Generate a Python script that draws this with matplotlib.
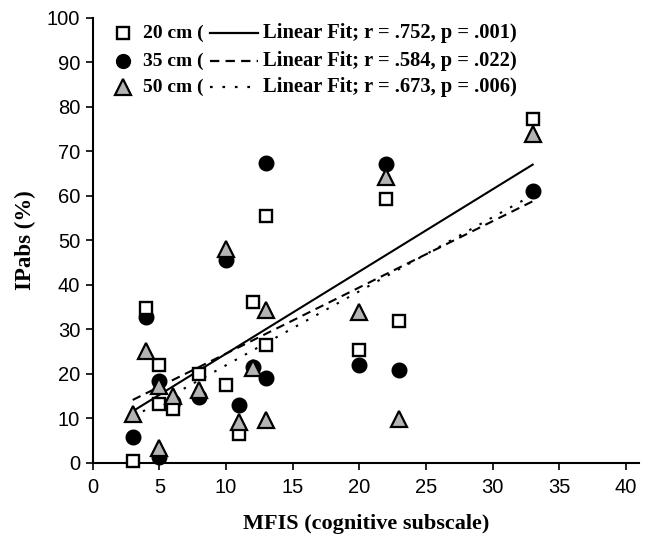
import numpy as np
import matplotlib
matplotlib.use("Agg")
import matplotlib.pyplot as plt

# MFIS cognitive subscale score per subject (same for all three distances)
mfis = [3, 4, 5, 5, 6, 8, 10, 11, 12, 13, 13, 20, 22, 23, 33]

# IPabs (%) at each distance
ip_20 = [0.5, 34.8, 22.0, 13.3, 12.1, 20.0, 17.5, 6.5, 36.1, 26.5, 55.5, 25.4, 59.3, 31.8, 77.2]
ip_35 = [5.9, 32.7, 18.5, 1.4, 13.8, 14.9, 45.6, 13.0, 21.5, 67.5, 19.0, 22.0, 67.2, 21.0, 61.2]
ip_50 = [11.0, 25.2, 17.3, 3.3, 15.1, 16.3, 48.0, 9.1, 21.3, 34.4, 9.7, 34.0, 64.2, 9.8, 73.9]

legend_labels = ["20 cm (", "35 cm (", "50 cm ("]
fit_labels = ["Linear Fit; r = .752, p = .001)",
              "Linear Fit; r = .584, p = .022)",
              "Linear Fit; r = .673, p = .006)"]

serif = "Liberation Serif"
sans = "Liberation Sans"

fig = plt.figure(figsize=(6.45, 5.41), dpi=100)
ax = fig.add_axes([0.1437, 0.1442, 0.8475, 0.8226])

# marker styles: square / circle / triangle
styles = [
    dict(marker="s", ms=8.7, mfc="white", mec="black", mew=1.7, z=4),
    dict(marker="o", ms=10.5, mfc="black", mec="black", mew=1.0, z=3),
    dict(marker="^", ms=11.5, mfc="#b4b4b4", mec="black", mew=1.6, z=5),
]
lines = [dict(ls="-"), dict(ls=(0, (4.2, 2.8))), dict(ls=(0, (1.2, 4.4)))]

x = np.array(mfis, dtype=float)
for yy, st, ln in zip([ip_20, ip_35, ip_50], styles, lines):
    yy = np.array(yy)
    # least squares fit line over the data range
    k, b = np.polyfit(x, yy, 1)
    xs = np.array([x.min(), x.max()])
    ax.plot(xs, k * xs + b, color="black", lw=1.5, linestyle=ln["ls"], zorder=2)
    ax.plot(x, yy, linestyle="none", marker=st["marker"], ms=st["ms"],
            mfc=st["mfc"], mec=st["mec"], mew=st["mew"], zorder=st["z"], clip_on=False)

ax.set_xlim(0, 41)
ax.set_ylim(0, 100)
ax.set_xticks(np.arange(0, 41, 5))
ax.set_yticks(np.arange(0, 101, 10))
for s in ["top", "right"]:
    ax.spines[s].set_visible(False)
for s in ["left", "bottom"]:
    ax.spines[s].set_linewidth(1.5)
ax.tick_params(direction="out", length=5, width=1.2, labelsize=14.5)
ax.tick_params(axis="x", pad=6)
ax.tick_params(axis="y", pad=4)
for lab in ax.get_xticklabels() + ax.get_yticklabels():
    lab.set_fontfamily(sans)

ax.set_xlabel("MFIS (cognitive subscale)", fontfamily=serif, fontweight="bold",
              fontsize=16, labelpad=12)
ax.set_ylabel("IPabs (%)", fontfamily=serif, fontweight="bold", fontsize=16.5, labelpad=8)

# hand-made legend: marker, "xx cm (", line sample, fit text
rows = [0.9656, 0.9034, 0.8443]
for i in range(3):
    fy = rows[i]
    st = styles[i]
    ax.plot([0.0555], [fy], transform=ax.transAxes, linestyle="none", marker=st["marker"],
            ms=st["ms"] * 0.95, mfc=st["mfc"], mec=st["mec"], mew=st["mew"], clip_on=False)
    ax.text(0.092, fy, legend_labels[i], transform=ax.transAxes, fontfamily=serif,
            fontweight="bold", fontsize=14, va="center", ha="left")
    ax.plot([0.2150, 0.3027], [fy, fy], transform=ax.transAxes, color="black", lw=1.6,
            linestyle=lines[i]["ls"], clip_on=False)
    ax.text(0.3117, fy, fit_labels[i], transform=ax.transAxes, fontfamily=serif,
            fontweight="bold", fontsize=14.8, va="center", ha="left")

fig.savefig("out.png", dpi=100)
